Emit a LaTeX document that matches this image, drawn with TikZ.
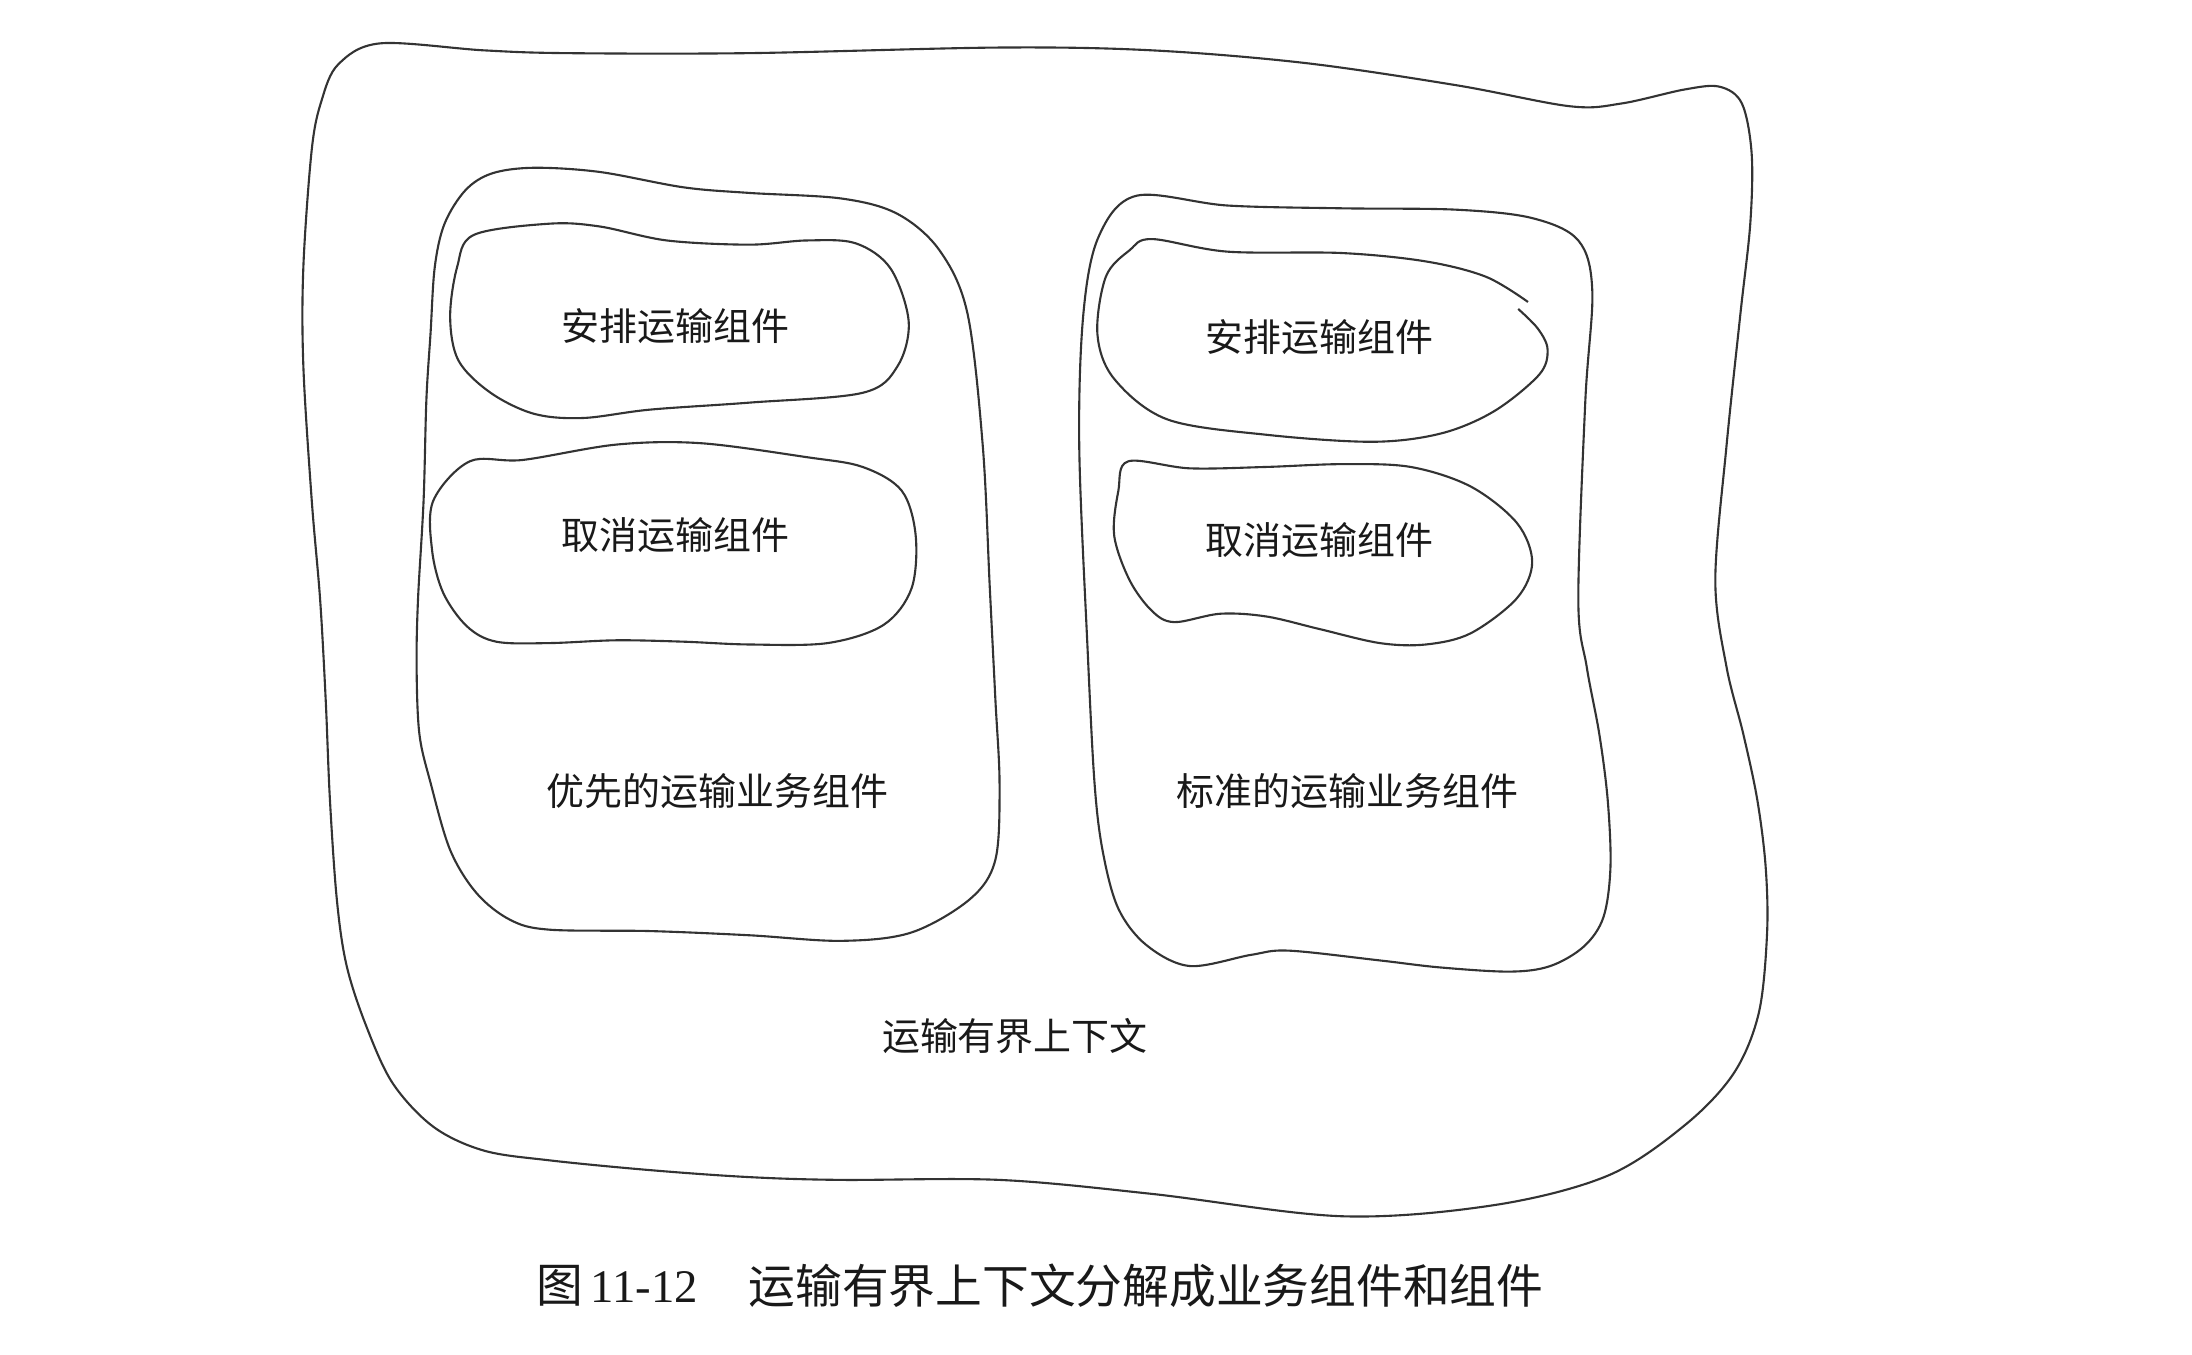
\documentclass[tikz,border=0pt]{standalone}
\usepackage{fontspec}
\setmainfont{Liberation Serif}
\newfontfamily\cjk{Noto Sans CJK SC}
\begin{document}
\begin{tikzpicture}[x=0.01398cm,y=-0.01398cm,
  blob/.style={draw=black!80,line width=0.6pt},
  lbl/.style={font=\cjk\fontsize{10.8}{13}\selectfont,text=black!90,inner sep=0pt},
  captext/.style={font=\fontsize{13.3}{16}\selectfont,text=black!90,inner sep=0pt}]
\useasboundingbox (0,0) rectangle (1568,969);
% outer bounded context
\draw[blob] plot[smooth cycle,tension=0.55] coordinates {
 (272,31) (346,36) (405,38) (536,38) (715,34) (824,36) (933,45) (1042,61) (1123,76)
 (1160,74) (1205,64) (1230,62) (1246,74) (1253,110) (1252,160) (1245,224) (1235,319)
 (1227,415) (1235,477) (1247,525) (1257,572) (1263,620) (1264,668) (1258,725) (1240,768)
 (1205,805) (1150,841) (1069,862) (960,870) (824,854) (715,844) (602,844) (536,842)
 (465,837) (393,830) (346,823) (310,806) (281,775) (262,734) (248,691) (241,644)
 (236,572) (233,501) (229,429) (223,358) (217,262) (217,191) (223,107) (230,72) (242,46)};
% left business component
\draw[blob] plot[smooth cycle,tension=0.55] coordinates {
 (352,124) (382,120) (429,123) (489,134) (536,138) (602,142) (642,153) (672,179)
 (692,224) (703,319) (708,420) (712,500) (715,561) (712,615) (694,643) (652,667)
 (602,673) (536,669) (465,666) (393,665) (365,658) (341,639) (322,608) (308,560)
 (300,525) (298,477) (299,429) (303,358) (305,286) (308,238) (311,191) (318,160) (333,136)};
% left arrange
\draw[blob] plot[smooth cycle,tension=0.55] coordinates {
 (339,168) (393,160) (429,162) (477,172) (536,175) (577,172) (612,174) (637,192)
 (650,230) (642,262) (617,281) (536,288) (465,293) (417,299) (382,296) (351,281)
 (328,258) (322,227) (327,191)};
% left cancel
\draw[blob] plot[smooth cycle,tension=0.55] coordinates {
 (336,330) (374,329) (441,318) (501,317) (577,327) (617,334) (645,351) (655,383)
 (652,421) (632,447) (592,460) (536,461) (489,459) (441,458) (393,460) (355,459)
 (334,448) (317,424) (309,393) (310,358)};
% right business component
\draw[blob] plot[smooth cycle,tension=0.55] coordinates {
 (813,140) (878,147) (960,149) (1042,150) (1096,156) (1129,172) (1139,208) (1134,287)
 (1129,429) (1135,477) (1144,525) (1150,572) (1152,620) (1147,656) (1133,677)
 (1109,691) (1080,695) (1030,692) (987,687) (922,680) (895,683) (851,691) (820,676)
 (800,650) (789,610) (783,561) (778,465) (772,319) (775,224) (786,169)};
% right arrange (open stroke)
\draw[blob] plot[smooth,tension=0.55] coordinates {
 (1086,221) (1100,235) (1107,250) (1101,268) (1069,294) (1031,310) (982,316) (906,311)
 (835,300) (797,271) (785,239) (791,198) (808,179) (824,171) (878,180) (960,181)
 (1020,187) (1063,198) (1093,216)};
% right cancel
\draw[blob] plot[smooth cycle,tension=0.55] coordinates {
 (807,330) (851,335) (906,334) (960,332) (1009,334) (1052,348) (1085,374) (1096,402)
 (1085,428) (1052,453) (1020,461) (987,460) (944,450) (906,441) (873,439) (840,445)
 (824,437) (808,415) (797,383) (800,351)};
% labels
\node[lbl] (la) at (483,233) {安排运输组件};
\node[lbl] (lc) at (483,383) {取消运输组件};
\node[lbl] (lb) at (513,566) {优先的运输业务组件};
\node[lbl] (ra) at (944,241) {安排运输组件};
\node[lbl] (rc) at (944,386) {取消运输组件};
\node[lbl] (rb) at (964,566) {标准的运输业务组件};
\node[lbl] (ctx) at (726,741) {运输有界上下文};
\node[captext,anchor=west] (cap1) at (383,920) {{\cjk 图}\,11-12};
\node[captext,anchor=west] (cap2) at (535,920) {\cjk 运输有界上下文分解成业务组件和组件};
\end{tikzpicture}
\end{document}
